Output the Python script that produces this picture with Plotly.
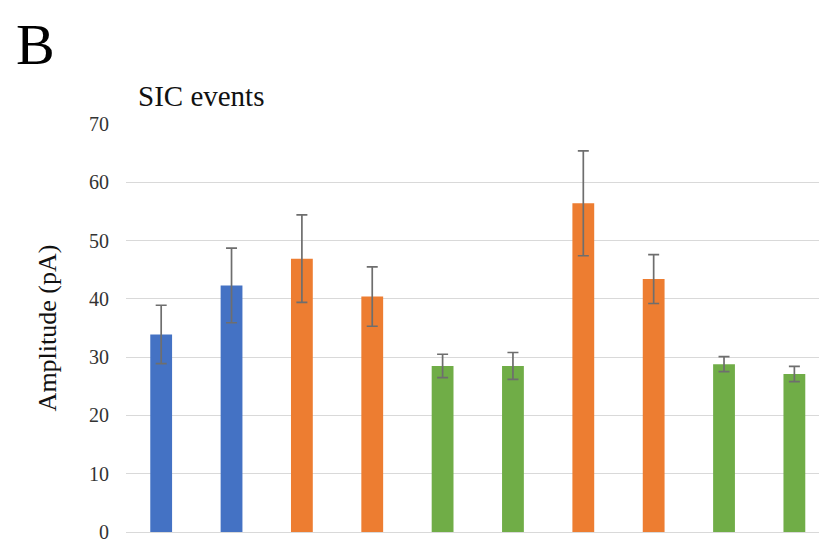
import plotly.graph_objects as go

# Mean amplitude per condition with its error (pA)
conditions = ["C1", "C2", "C3", "C4", "C5", "C6", "C7", "C8", "C9", "C10"]
amplitude = [33.9, 42.3, 46.9, 40.4, 28.5, 28.5, 56.4, 43.4, 28.8, 27.1]
error = [5.0, 6.4, 7.5, 5.1, 2.0, 2.3, 9.0, 4.2, 1.3, 1.3]
group = ["blue", "blue", "orange", "orange", "green", "green", "orange", "orange", "green", "green"]

palette = {"blue": "#4472C4", "orange": "#ED7D31", "green": "#70AD47"}
bar_colors = [palette[g] for g in group]

serif = "Liberation Serif, Times New Roman, serif"

fig = go.Figure(
    go.Bar(
        x=conditions,
        y=amplitude,
        width=0.31,
        marker=dict(color=bar_colors, line=dict(width=0)),
        error_y=dict(
            type="data",
            array=error,
            visible=True,
            color="#6e6e6e",
            thickness=1.7,
            width=5.5,
        ),
        showlegend=False,
    )
)

fig.update_layout(
    width=819,
    height=542,
    margin=dict(l=126, r=0, t=124, b=10),
    paper_bgcolor="white",
    plot_bgcolor="white",
    font=dict(family=serif, color="#222222"),
    xaxis=dict(
        range=[-0.5, 9.35],
        showticklabels=False,
        showgrid=False,
        zeroline=False,
        showline=False,
        fixedrange=True,
    ),
    yaxis=dict(
        range=[0, 70],
        dtick=10,
        showgrid=True,
        gridcolor="#d9d9d9",
        gridwidth=1.2,
        zeroline=True,
        zerolinecolor="#d9d9d9",
        zerolinewidth=1.2,
        showline=False,
        automargin=False,
        ticklabeloverflow="allow",
        tickfont=dict(family=serif, size=20, color="#333333"),
        ticklabelstandoff=16,
        title=dict(text="Amplitude (pA)", font=dict(family=serif, size=26, color="#111111"), standoff=24),
    ),
)

# Panel letter and chart title, positioned relative to the plot area
fig.add_annotation(
    text="B", xref="paper", yref="paper",
    x=-(126 - 14) / 693, y=1 + (124 - 10) / 408,
    xanchor="left", yanchor="top", showarrow=False,
    font=dict(family=serif, size=58, color="#000000"),
)
fig.add_annotation(
    text="SIC events", xref="paper", yref="paper",
    x=(136 - 126) / 693, y=1 + (124 - 114) / 408,
    xanchor="left", yanchor="bottom", showarrow=False,
    font=dict(family=serif, size=29, color="#111111"),
)

fig.write_html("out.html")
